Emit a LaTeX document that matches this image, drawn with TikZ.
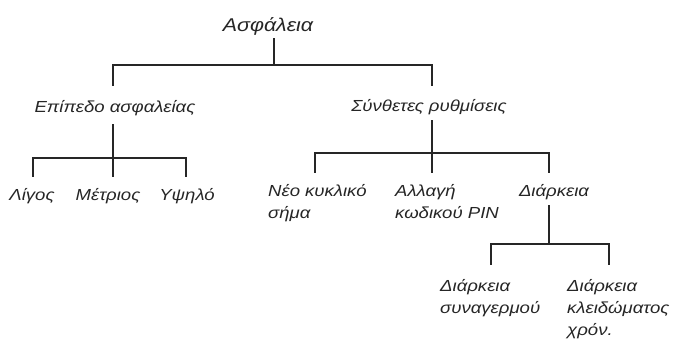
\documentclass[tikz,border=0pt]{standalone}
\usepackage{fontspec}
\setmainfont{Liberation Sans}
\newfontfamily\lblfont[FakeStretch=1.16]{Liberation Sans}
\newcommand{\lines}[1]{\begin{tabular}[t]{@{}l@{}}#1\end{tabular}}
\begin{document}
\begin{tikzpicture}[x=1pt,y=-1pt,
  lbl/.style={inner sep=0pt, font=\lblfont\fontsize{16}{22}\selectfont\itshape, text=black!85},
  rootlbl/.style={inner sep=0pt, font=\lblfont\fontsize{18.5}{22}\selectfont\itshape, text=black!85},
  edge/.style={line width=1.4pt, draw=black!85}]
\useasboundingbox[fill=white] (0,0) rectangle (676,338);
% labels
\node[rootlbl, anchor=base] (root) at (268,31) {Ασφάλεια};
\node[lbl, anchor=base] (epi) at (115,112) {Επίπεδο ασφαλείας};
\node[lbl, anchor=base] (syn) at (429,111) {Σύνθετες ρυθμίσεις};
\node[lbl, anchor=base] (ligos) at (32,200) {Λίγος};
\node[lbl, anchor=base] (metr) at (108,200) {Μέτριος};
\node[lbl, anchor=base] (ypsi) at (187,200) {Υψηλό};
\node[lbl, anchor=base west] (neo) at (268,196) {\lines{Νέο κυκλικό\\σήμα}};
\node[lbl, anchor=base west] (pin) at (395,196) {\lines{Αλλαγή\\κωδικού PIN}};
\node[lbl, anchor=base] (diar) at (554,196) {Διάρκεια};
\node[lbl, anchor=base west] (syna) at (440,291) {\lines{Διάρκεια\\συναγερμού}};
\node[lbl, anchor=base west] (klei) at (567,291) {\lines{Διάρκεια\\κλειδώματος\\χρόν.}};
% junction coordinates
\coordinate (r0) at (274,38);  \coordinate (r1) at (274,65);
\coordinate (ea) at (113,86);  \coordinate (sa) at (432,86);
\coordinate (e0) at (113,124); \coordinate (e1) at (113,158);
\coordinate (la) at (33,177);  \coordinate (ma) at (113,177); \coordinate (ya) at (186,177);
\coordinate (s0) at (432,120); \coordinate (s1) at (432,153);
\coordinate (na) at (315,173); \coordinate (pa) at (432,173); \coordinate (da) at (549,173);
\coordinate (d0) at (549,205); \coordinate (d1) at (549,244);
\coordinate (ca) at (491,265); \coordinate (ka) at (609,265);
% connectors
\draw[edge] (r0) -- (r1) -| (ea);
\draw[edge] (r1) -| (sa);
\draw[edge] (e0) -- (e1) -| (la);
\draw[edge] (e1) -- (ma);
\draw[edge] (e1) -| (ya);
\draw[edge] (s0) -- (s1) -| (na);
\draw[edge] (s1) -- (pa);
\draw[edge] (s1) -| (da);
\draw[edge] (d0) -- (d1) -| (ca);
\draw[edge] (d1) -| (ka);
\end{tikzpicture}
\end{document}
